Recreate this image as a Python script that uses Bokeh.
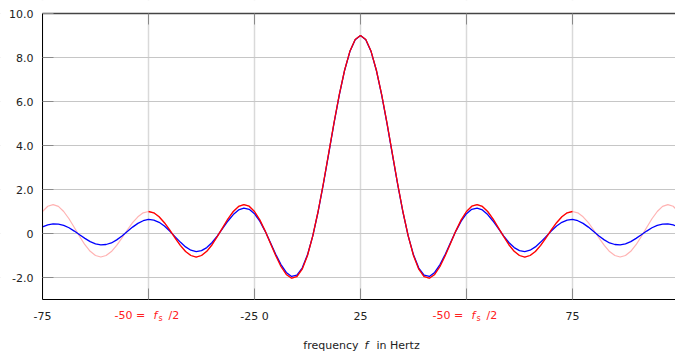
from bokeh.plotting import figure
from bokeh.models import FixedTicker, LinearAxis, ColumnDataSource, Range1d, BoxAnnotation
from bokeh.core.properties import value
from bokeh.embed import file_html
from bokeh.resources import INLINE

# frequency grid (Hz), step 1.25
freq = [i * 1.25 for i in range(-60, 61)]

# periodic (aliased) spectrum, period 100 Hz
dirichlet = [
    1.00, 1.24, 1.31, 1.23, 1.00, 0.67, 0.27, -0.13, -0.51, -0.81,
    -1.00, -1.07, -1.00, -0.82, -0.54, -0.20, 0.16, 0.49, 0.76, 0.94,
    1.00, 0.94, 0.76, 0.49, 0.16, -0.20, -0.54, -0.82, -1.00, -1.07,
    -1.00, -0.81, -0.51, -0.13, 0.27, 0.67, 1.00, 1.23, 1.31, 1.24,
    1.00, 0.62, 0.12, -0.44, -1.00, -1.50, -1.86, -2.03, -1.96, -1.62,
    -1.00, -0.11, 1.00, 2.28, 3.65, 5.03, 6.31, 7.42, 8.28, 8.82,
    9.00,
    8.82, 8.28, 7.42, 6.31, 5.03, 3.65, 2.28, 1.00, -0.11, -1.00,
    -1.62, -1.96, -2.03, -1.86, -1.50, -1.00, -0.44, 0.12, 0.62, 1.00,
    1.24, 1.31, 1.23, 1.00, 0.67, 0.27, -0.13, -0.51, -0.81, -1.00,
    -1.07, -1.00, -0.82, -0.54, -0.20, 0.16, 0.49, 0.76, 0.94, 1.00,
    0.94, 0.76, 0.49, 0.16, -0.20, -0.54, -0.82, -1.00, -1.07, -1.00,
    -0.81, -0.51, -0.13, 0.27, 0.67, 1.00, 1.23, 1.31, 1.24, 1.00,
]

# continuous (non-aliased) spectrum
sinc_vals = [
    0.30, 0.39, 0.44, 0.43, 0.37, 0.26, 0.11, -0.06, -0.22, -0.37,
    -0.47, -0.52, -0.50, -0.43, -0.29, -0.11, 0.09, 0.29, 0.46, 0.58,
    0.64, 0.61, 0.51, 0.34, 0.11, -0.14, -0.39, -0.61, -0.76, -0.82,
    -0.78, -0.64, -0.41, -0.11, 0.23, 0.57, 0.86, 1.07, 1.15, 1.10,
    0.90, 0.56, 0.11, -0.41, -0.94, -1.41, -1.77, -1.95, -1.89, -1.57,
    -0.97, -0.11, 0.98, 2.25, 3.62, 5.00, 6.29, 7.41, 8.27, 8.81,
    9.00,
    8.81, 8.27, 7.41, 6.29, 5.00, 3.62, 2.25, 0.98, -0.11, -0.97,
    -1.57, -1.89, -1.95, -1.77, -1.41, -0.94, -0.41, 0.11, 0.56, 0.90,
    1.10, 1.15, 1.07, 0.86, 0.57, 0.23, -0.11, -0.41, -0.64, -0.78,
    -0.82, -0.76, -0.61, -0.39, -0.14, 0.11, 0.34, 0.51, 0.61, 0.64,
    0.58, 0.46, 0.29, 0.09, -0.11, -0.29, -0.43, -0.50, -0.52, -0.47,
    -0.37, -0.22, -0.06, 0.11, 0.26, 0.37, 0.43, 0.44, 0.39, 0.30,
]

nyquist = 50.0
x_ticks = [-75, -50, -25, 0, 25, 50]
x_tick_labels = ["-75", "", "-25 0", "25", "", "75"]
red_tick_pos = [-50, 25]
red_tick_parts = ["-50 =", "f", "s", "/2"]
y_ticks = [-2, 0, 2, 4, 6, 8, 10]
y_tick_labels = ["-2.0", "0", "2.0", "4.0", "6.0", "8.0", "10.0"]
x_title_parts = ["frequency", "f", "in Hertz"]

FONT = "DejaVu Sans"
TXT = "#222222"
RED = "#ff2020"
TICK = "#8a8a8a"

# layout in pixels
W, H = 675, 353
LEFT, TOP, BOTTOM = 42, 13, 299          # plot box edges on the page
XMIN, XMAX = -75, 74.3                    # visible frequency span of the box
YMIN, YMAX = -3, 10
px_x = (W - LEFT) / (XMAX - XMIN)
px_y = (BOTTOM - TOP) / (YMAX - YMIN)

p = figure(width=W, height=H,
           x_range=Range1d(XMIN - LEFT / px_x, XMAX),
           y_range=Range1d(YMIN - (H - BOTTOM) / px_y, YMAX + TOP / px_y),
           output_backend="svg", toolbar_location=None,
           min_border_left=0, min_border_right=0, min_border_top=0,
           min_border_bottom=0)
p.outline_line_color = None

# grids
p.xgrid.ticker = FixedTicker(ticks=x_ticks)
p.ygrid.ticker = FixedTicker(ticks=y_ticks)
p.xgrid.grid_line_color = "#d9d9d9"
p.xgrid.grid_line_width = 1.5
p.ygrid.grid_line_color = "#c6c6c6"
p.ygrid.grid_line_width = 1
# keep grid lines inside the plot box
for box in [dict(right=XMIN), dict(top=YMIN), dict(bottom=YMAX)]:
    p.add_layout(BoxAnnotation(fill_color="white", fill_alpha=1,
                               line_color=None, level="underlay", **box))

# y axis at f = -75
ya = p.yaxis[0]
ya.fixed_location = XMIN
ya.bounds = (YMIN, YMAX)
ya.ticker = FixedTicker(ticks=y_ticks)
ya.major_label_overrides = {t: s for t, s in zip(y_ticks, y_tick_labels)}
ya.major_tick_in = 11
ya.major_tick_out = 0
ya.major_tick_line_color = TICK
ya.minor_tick_line_color = None
ya.axis_line_color = "black"
ya.major_label_standoff = 9
ya.major_label_text_font = FONT
ya.major_label_text_font_size = "11px"
ya.major_label_text_color = TXT

# x axis at y = -3
xa = p.xaxis[0]
xa.fixed_location = YMIN
xa.bounds = (XMIN, XMAX)
xa.ticker = FixedTicker(ticks=x_ticks)
xa.major_label_overrides = {t: s for t, s in zip(x_ticks, x_tick_labels)}
xa.major_tick_in = 11
xa.major_tick_out = 0
xa.major_tick_line_color = TICK
xa.minor_tick_line_color = None
xa.axis_line_color = "black"
xa.major_label_standoff = 10
xa.major_label_text_font = FONT
xa.major_label_text_font_size = "11px"
xa.major_label_text_color = TXT

# top border at y = 10 with inward ticks
top = LinearAxis(ticker=FixedTicker(ticks=x_ticks), bounds=(XMIN, XMAX),
                 fixed_location=YMAX,
                 major_label_overrides={t: "" for t in x_ticks},
                 major_label_text_font_size="0px", major_label_standoff=0,
                 major_tick_in=11, major_tick_out=0,
                 major_tick_line_color=TICK, minor_tick_line_color=None,
                 axis_line_color="#444444", axis_line_width=1.5)
p.add_layout(top, "above")

# curves
src_all = ColumnDataSource(dict(f=freq, d=dirichlet, s=sinc_vals))
inside = [i for i, f in enumerate(freq) if -nyquist <= f <= nyquist]
src_in = ColumnDataSource(dict(f=[freq[i] for i in inside],
                               d=[dirichlet[i] for i in inside]))
p.line("f", "d", source=src_all, line_color="#ffb3b3", line_width=1.2)
p.line("f", "s", source=src_all, line_color="#0000ff", line_width=1.3)
p.line("f", "d", source=src_in, line_color="#ff0000", line_width=1.3)

# red "-50 = f_s/2" tick labels, built of pieces
base = YMAX - (315.0 - TOP) / px_y
offs = [-34, 5, 10, 20]
for k, part in enumerate(red_tick_parts):
    yb = base - (2.5 / px_y if part == "s" else 0)
    p.text(x=red_tick_pos, y=[yb] * len(red_tick_pos),
           text=[part] * len(red_tick_pos), x_offset=offs[k],
           text_align="left", text_baseline="alphabetic",
           text_font=value(FONT),
           text_font_style=value("italic" if part == "f" else "normal"),
           text_font_size=value("8px" if part == "s" else "11px"),
           text_color=RED)

# axis title "frequency f in Hertz"
tb = YMAX - (344.5 - TOP) / px_y
for txt, off, align, style in [(x_title_parts[0], -2, "right", "normal"),
                               (x_title_parts[1], 4, "left", "italic"),
                               (x_title_parts[2], 16, "left", "normal")]:
    p.text(x=[0], y=[tb], text=[txt], x_offset=off,
           text_align=align, text_baseline="alphabetic",
           text_font=value(FONT), text_font_style=value(style),
           text_font_size=value("11px"), text_color=TXT)

open("out.html", "w").write(file_html(p, INLINE))
